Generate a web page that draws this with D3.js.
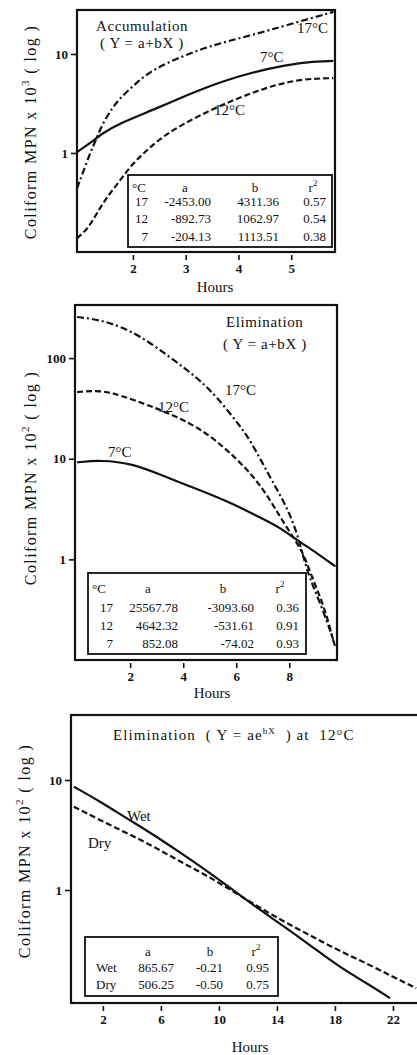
<!DOCTYPE html>
<html>
<head>
<meta charset="utf-8">
<script src="https://cdn.jsdelivr.net/npm/d3@7"></script>
<style>
  body { margin: 0; background: #fff; }
  svg { display: block; background: #fff; }
  text { font-family: 'Liberation Serif', 'DejaVu Serif', serif; fill: #111; }
  .axis .domain { display: none; }
  .axis line { stroke: #111; stroke-width: 1.6; }
  .axis text { font-size: 13px; font-weight: bold; font-family: 'Liberation Serif', 'DejaVu Serif', serif; fill: #111; }
</style>
</head>
<body>
<div id="chart"></div>
<script>
// ---- data: accumulation panel (x = hours, y = coliform MPN x 10^3)
const accHours17 = [0.94, 1.05, 1.19, 1.32, 1.43, 1.62, 1.76, 2.08, 2.38, 3.03, 3.65, 4.28, 4.92, 5.80];
const accMpn17   = [0.44, 0.63, 1.0, 1.45, 2.0, 2.9, 3.6, 5.2, 7.0, 10.0, 12.9, 15.6, 19.6, 26.6];
const accHours12 = [0.94, 1.13, 1.32, 1.51, 1.76, 2.0, 2.33, 2.65, 3.27, 3.9, 4.55, 5.17, 5.80];
const accMpn12   = [0.138, 0.167, 0.248, 0.36, 0.53, 0.79, 1.15, 1.59, 2.42, 3.43, 4.64, 5.6, 5.7];
const accHours7  = [0.94, 1.19, 1.43, 1.76, 2.38, 3.03, 3.65, 4.28, 4.92, 5.30, 5.80];
const accMpn7    = [1.02, 1.26, 1.59, 2.01, 2.72, 3.85, 5.21, 6.58, 7.74, 8.3, 8.5];
const accXTicks  = [2, 3, 4, 5];
const accYTicks  = [1, 10];

// ---- data: elimination panel (x = hours, y = coliform MPN x 10^2)
const elimHours17 = [0, 0.98, 2.26, 3.5, 4.5, 5.28, 6.15, 6.53, 7.28, 7.92, 8.3, 8.53, 8.8, 9.17, 9.55, 9.74];
const elimMpn17   = [256, 239, 177, 102, 65, 41, 21, 15.3, 6.5, 3.29, 1.81, 1.05, 0.62, 0.365, 0.196, 0.133];
const elimHours12 = [0, 0.87, 1.62, 2.87, 3.4, 4.6, 5.8, 6.9, 7.66, 8.15, 8.53, 8.8, 9.17, 9.43, 9.66];
const elimMpn12   = [46, 48, 43, 32.6, 28.5, 20.6, 11.5, 5.7, 2.62, 1.66, 1.15, 0.73, 0.42, 0.265, 0.157];
const elimHours7  = [0, 0.87, 2.1, 3.4, 4.6, 5.85, 7.17, 7.66, 8.3, 9.06, 9.74];
const elimMpn7    = [9.2, 9.7, 9.0, 6.5, 4.9, 3.6, 2.4, 2.05, 1.55, 1.15, 0.85];
const elimXTicks  = [2, 4, 6, 8];
const elimYTicks  = [1, 10, 100];

// ---- data: wet / dry elimination at 12 C (x = hours, y = coliform MPN x 10^2)
const wdHoursWet = [0, 1.79, 3.63, 5.47, 7.31, 9.15, 10.99, 12.83, 14.67, 16.5, 18.3, 20.2, 21.8];
const wdMpnWet   = [8.7, 6.4, 4.5, 3.2, 2.2, 1.5, 1.0, 0.66, 0.45, 0.3, 0.2, 0.142, 0.104];
const wdHoursDry = [0, 1.79, 3.63, 5.47, 7.31, 9.15, 10.99, 12.83, 14.67, 16.5, 18.3, 20.2, 22.0, 23.6];
const wdMpnDry   = [5.72, 4.33, 3.3, 2.5, 1.82, 1.36, 0.97, 0.69, 0.5, 0.375, 0.28, 0.215, 0.163, 0.128];
const wdXTicks   = [2, 6, 10, 14, 18, 22];
const wdYTicks   = [1, 10];

// ---- regression tables
const accTableHead  = ['°C', 'a', 'b', 'r'];
const accTableRows  = [['17', '-2453.00', '4311.36', '0.57'], ['12', '-892.73', '1062.97', '0.54'], ['7', '-204.13', '1113.51', '0.38']];
const elimTableHead = ['°C', 'a', 'b', 'r'];
const elimTableRows = [['17', '25567.78', '-3093.60', '0.36'], ['12', '4642.32', '-531.61', '0.91'], ['7', '852.08', '-74.02', '0.93']];
const wdTableHead   = ['', 'a', 'b', 'r'];
const wdTableRows   = [['Wet', '865.67', '-0.21', '0.95'], ['Dry', '506.25', '-0.50', '0.75']];

const zip = (xs, ys) => xs.map((x, i) => ({x: x, y: ys[i]}));

const DASH = '6,3';
const DASHDOT = '7,3,2,3';
const SP = '\u00a0';

const svg = d3.select('#chart').append('svg')
    .attr('width', 417)
    .attr('height', 1055);

// draws one framed panel
function drawPanel(cfg) {
    const g = svg.append('g');

    // setting up scales
    const x = d3.scaleLinear().domain(cfg.xDomain).range([cfg.l, cfg.r]);
    const y = d3.scaleLog().domain(cfg.yDomain).range([cfg.b, cfg.t]);

    const clipId = 'clip' + cfg.id;
    g.append('clipPath').attr('id', clipId)
      .append('rect')
        .attr('x', cfg.l).attr('y', cfg.t)
        .attr('width', cfg.r - cfg.l).attr('height', cfg.b - cfg.t);

    // frame
    g.append('rect')
        .attr('x', cfg.l).attr('y', cfg.t)
        .attr('width', cfg.frameR - cfg.l).attr('height', cfg.b - cfg.t)
        .attr('fill', 'none')
        .attr('stroke', '#111')
        .attr('stroke-width', 2.2);

    // curves
    const line = d3.line()
        .x(d => x(d.x))
        .y(d => y(d.y))
        .curve(d3.curveBasis);
    const plot = g.append('g').attr('clip-path', `url(#${clipId})`);
    cfg.series.forEach(s => {
        plot.append('path')
            .datum(s.data)
            .attr('d', line)
            .attr('fill', 'none')
            .attr('stroke', '#111')
            .attr('stroke-width', 2.2)
            .attr('stroke-dasharray', s.dash || null);
        if (s.label) {
            g.append('text')
                .attr('x', s.lx).attr('y', s.ly)
                .attr('font-size', 15)
                .text(s.label);
        }
    });

    // axes
    g.append('g').attr('class', 'axis')
        .attr('transform', `translate(0,${cfg.b + 3})`)
        .call(d3.axisBottom(x).tickValues(cfg.xTicks).tickSize(5).tickPadding(4).tickFormat(d3.format('d')));
    g.append('g').attr('class', 'axis')
        .attr('transform', `translate(${cfg.l + 1},0)`)
        .call(d3.axisLeft(y).tickValues(cfg.yTicks).tickSize(7).tickPadding(3).tickFormat(d3.format('d')));

    g.append('text')
        .attr('x', cfg.xLabelX).attr('y', cfg.xLabelY)
        .attr('text-anchor', 'middle')
        .attr('font-size', 15)
        .text('Hours');

    const yl = g.append('text')
        .attr('transform', `translate(${cfg.yLabelX},${cfg.yLabelY}) rotate(-90)`)
        .attr('text-anchor', 'middle')
        .attr('font-size', 16)
        .attr('letter-spacing', 1.4);
    yl.append('tspan').text('Coliform MPN x 10');
    yl.append('tspan').attr('dy', -7).attr('font-size', 11).text(cfg.yExp);
    yl.append('tspan').attr('dy', 7).text(SP + '(' + SP + 'log' + SP + ')');

    // title
    cfg.title.forEach(tl => {
        const t = g.append('text').attr('x', tl.x).attr('y', tl.y)
            .attr('font-size', 15).attr('letter-spacing', tl.ls || 0.6);
        tl.parts.forEach(p => {
            const ts = t.append('tspan').text(p.t);
            if (p.sup) ts.attr('dy', -6).attr('font-size', 9);
            if (p.down) ts.attr('dy', 6);
        });
    });

    // regression table
    const tb = cfg.table;
    g.append('rect')
        .attr('x', tb.x0).attr('y', tb.y0)
        .attr('width', tb.x1 - tb.x0).attr('height', tb.y1 - tb.y0)
        .attr('fill', '#fff')
        .attr('stroke', '#111')
        .attr('stroke-width', 1.8);
    tb.head.forEach((h, i) => {
        const t = g.append('text')
            .attr('x', tb.headX[i]).attr('y', tb.rowY[0])
            .attr('text-anchor', i === 0 ? 'start' : 'middle')
            .attr('font-size', 13)
            .text(h);
        if (h === 'r') t.append('tspan').attr('dy', -6).attr('font-size', 9).text('2');
    });
    tb.rows.forEach((row, r) => {
        row.forEach((v, c) => {
            g.append('text')
                .attr('x', tb.colX[c]).attr('y', tb.rowY[r + 1])
                .attr('text-anchor', tb.colAnchor[c])
                .attr('font-size', 13)
                .text(v);
        });
    });
}

drawPanel({
    id: 1,
    l: 77, r: 335, frameR: 335, t: 10, b: 252,
    xDomain: [0.94, 5.83], yDomain: [0.1, 27.8],
    xTicks: accXTicks, yTicks: accYTicks,
    xLabelX: 215, xLabelY: 292,
    yLabelX: 36, yLabelY: 132, yExp: '3',
    title: [
        {x: 96, y: 31, parts: [{t: 'Accumulation'}]},
        {x: 100, y: 48, parts: [{t: '( Y = a+bX )'}]}
    ],
    series: [
        {data: zip(accHours17, accMpn17), dash: DASHDOT, label: '17°C', lx: 297, ly: 33},
        {data: zip(accHours7, accMpn7), label: '7°C', lx: 260, ly: 62},
        {data: zip(accHours12, accMpn12), dash: DASH, label: '12°C', lx: 214, ly: 115}
    ],
    table: {
        x0: 128, x1: 332, y0: 175, y1: 247,
        head: accTableHead, headX: [132, 185, 255, 313],
        rows: accTableRows,
        colX: [148, 211, 279, 326], colAnchor: ['end', 'end', 'end', 'end'],
        rowY: [192, 206, 223, 241]
    }
});

drawPanel({
    id: 2,
    l: 75, r: 337, frameR: 337, t: 305, b: 660,
    xDomain: [-0.08, 9.8], yDomain: [0.1, 337],
    xTicks: elimXTicks, yTicks: elimYTicks,
    xLabelX: 212, xLabelY: 698,
    yLabelX: 36, yLabelY: 478, yExp: '2',
    title: [
        {x: 226, y: 327, parts: [{t: 'Elimination'}]},
        {x: 223, y: 349, parts: [{t: '( Y = a+bX )'}]}
    ],
    series: [
        {data: zip(elimHours17, elimMpn17), dash: DASHDOT, label: '17°C', lx: 225, ly: 395},
        {data: zip(elimHours12, elimMpn12), dash: DASH, label: '12°C', lx: 158, ly: 412},
        {data: zip(elimHours7, elimMpn7), label: '7°C', lx: 108, ly: 457}
    ],
    table: {
        x0: 88, x1: 306, y0: 573, y1: 654,
        head: elimTableHead, headX: [92, 148, 223, 280],
        rows: elimTableRows,
        colX: [113, 178, 254, 299], colAnchor: ['end', 'end', 'end', 'end'],
        rowY: [593, 612, 630, 648]
    }
});

drawPanel({
    id: 3,
    l: 71, r: 417, frameR: 440, t: 715, b: 1003,
    xDomain: [-0.2, 23.66], yDomain: [0.094, 39],
    xTicks: wdXTicks, yTicks: wdYTicks,
    xLabelX: 250, xLabelY: 1052,
    yLabelX: 30, yLabelY: 851, yExp: '2',
    title: [
        {x: 113, y: 740, ls: 1.1, parts: [
            {t: 'Elimination' + SP + SP + '(' + SP + 'Y = ae'},
            {t: 'bX', sup: true},
            {t: SP + SP + ')' + SP + 'at' + SP + SP + '12°C', down: true}
        ]}
    ],
    series: [
        {data: zip(wdHoursWet, wdMpnWet), label: 'Wet', lx: 127, ly: 821},
        {data: zip(wdHoursDry, wdMpnDry), dash: DASH, label: 'Dry', lx: 88, ly: 848}
    ],
    table: {
        x0: 85, x1: 278, y0: 937, y1: 996,
        head: wdTableHead, headX: [95, 148, 210, 256],
        rows: wdTableRows,
        colX: [96, 174, 223, 269], colAnchor: ['start', 'end', 'end', 'end'],
        rowY: [956, 972, 989]
    }
});
</script>
</body>
</html>
